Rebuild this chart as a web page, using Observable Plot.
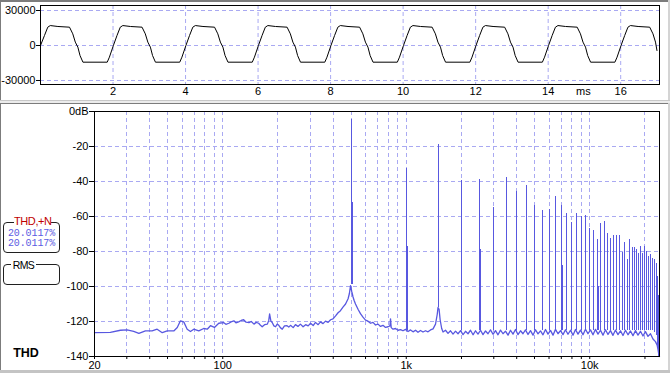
<!DOCTYPE html>
<html><head><meta charset="utf-8">
<script src="https://cdn.jsdelivr.net/npm/d3@7"></script>
<script src="https://cdn.jsdelivr.net/npm/@observablehq/plot@0.6"></script>
<style>
html,body{margin:0;padding:0;background:#fff;}
#root{position:relative;width:670px;height:373px;overflow:hidden;background:#fff;font-family:"Liberation Sans",Arial,sans-serif;}
.abs{position:absolute;}
.box{position:absolute;border:1px solid #202020;border-radius:4px;box-sizing:border-box;}
.lbl{position:absolute;white-space:nowrap;}
</style></head><body>
<div id="root">
  <div class="abs" style="left:0;top:0;width:670px;height:2px;background:#7c7c7c"></div>
  <div class="abs" style="left:0;top:0;width:1px;height:101px;background:#7c7c7c"></div>
  <div class="abs" style="left:668px;top:0;width:2px;height:101px;background:#d4d4d4"></div>
  <div class="abs" style="left:0;top:100px;width:670px;height:1px;background:#c8c8c8"></div>
  <div class="abs" style="left:0;top:101px;width:670px;height:2px;background:#ececec"></div>
  <div class="abs" style="left:0;top:103px;width:670px;height:1px;background:#7c7c7c"></div>
  <div class="abs" style="left:0;top:103px;width:1px;height:270px;background:#7c7c7c"></div>
  <div class="abs" style="left:668px;top:103px;width:2px;height:270px;background:#d4d4d4"></div>
  <div class="abs" style="left:0;top:370px;width:670px;height:3px;background:#c4c4c4"></div>
  <div id="top" class="abs" style="left:0;top:0"></div>
  <div id="bottom" class="abs" style="left:0;top:104px"></div>
  <div class="lbl" id="msLabel" style="left:576px;top:85px;font-size:11px;line-height:12px"></div>
  <div class="box" style="left:3px;top:222px;width:57px;height:31px"></div>
  <div class="lbl" id="thdTitle" style="left:14px;top:215px;width:37px;text-align:center;font-size:11px;line-height:13px;color:#c00000;background:#fff;letter-spacing:-0.4px"></div>
  <div class="lbl" id="thdV1" style="left:3px;top:228.5px;width:57px;text-align:center;font-family:'Liberation Mono',monospace;font-size:10px;line-height:9px;color:#5b5be2;letter-spacing:-0.1px"></div>
  <div class="lbl" id="thdV2" style="left:3px;top:239px;width:57px;text-align:center;font-family:'Liberation Mono',monospace;font-size:10px;line-height:9px;color:#5b5be2;letter-spacing:-0.1px"></div>
  <div class="box" style="left:3px;top:264px;width:57px;height:21px"></div>
  <div class="lbl" id="rmsTitle" style="left:11px;top:259px;width:25px;text-align:center;font-size:10.5px;line-height:13px;background:#fff;letter-spacing:-0.6px"></div>
  <div class="lbl" id="thdBold" style="left:8px;top:346px;width:36px;text-align:center;font-size:12.5px;font-weight:bold;line-height:14px"></div>
</div>
<script>
// ---------- waveform (top panel) ----------
const waveT = [
  0.00,0.11,0.20,0.27,0.48,0.80,0.89,0.96,1.03,1.09,1.17,1.84,1.90,
  2.01,2.11,2.20,2.27,2.48,2.80,2.89,2.96,3.03,3.09,3.17,3.84,3.90,
  4.01,4.11,4.20,4.27,4.48,4.80,4.89,4.96,5.03,5.09,5.17,5.84,5.90,
  6.01,6.11,6.20,6.27,6.48,6.80,6.89,6.96,7.03,7.09,7.17,7.84,7.90,
  8.01,8.11,8.20,8.27,8.48,8.80,8.89,8.96,9.03,9.09,9.17,9.84,9.90,
  10.01,10.11,10.20,10.27,10.48,10.80,10.89,10.96,11.03,11.09,11.17,11.84,11.90,
  12.01,12.11,12.20,12.27,12.48,12.80,12.89,12.96,13.03,13.09,13.17,13.84,13.90,
  14.01,14.11,14.20,14.27,14.48,14.80,14.89,14.96,15.03,15.09,15.17,15.84,15.90,
  16.01,16.11,16.20,16.27,16.48,16.80,16.89,16.96,17.00
];
const waveV = [
  0,8600,15700,17100,16300,15700,10000,2900,-1400,-8600,-14300,-14300,-10000,
  0,8600,15700,17100,16300,15700,10000,2900,-1400,-8600,-14300,-14300,-10000,
  0,8600,15700,17100,16300,15700,10000,2900,-1400,-8600,-14300,-14300,-10000,
  0,8600,15700,17100,16300,15700,10000,2900,-1400,-8600,-14300,-14300,-10000,
  0,8600,15700,17100,16300,15700,10000,2900,-1400,-8600,-14300,-14300,-10000,
  0,8600,15700,17100,16300,15700,10000,2900,-1400,-8600,-14300,-14300,-10000,
  0,8600,15700,17100,16300,15700,10000,2900,-1400,-8600,-14300,-14300,-10000,
  0,8600,15700,17100,16300,15700,10000,2900,-1400,-8600,-14300,-14300,-10000,
  0,8600,15700,17100,16300,15700,10000,2900,-4300
];
const waveXTicks = [2,4,6,8,10,12,14,16];
const waveYTicks = [-30000,0,30000];
const waveUnit = "ms";

// ---------- spectrum (bottom panel) ----------
const noiseF = [20,24.4,27.7,30.1,32.7,34.9,37.9,41.2,43.9,46.8,49.8,54.1,56.5,58.8,61.3,64,66.7,69.5,74,78.8,82.3,85.7,90.1,95.1,
  101,104,108,111,115,118,122,126,130,134,139,143,148,152,157,160,164,169,175,178,180,183,186,190,194,198,202,206,211,217,224,229,234,
  242,249,257,265,274,283,292,301,311,320,331,341,352,363,375,387,399,412,425,438,452,467,482,490,497,505,513,520,529,546,563,581,
  600,619,639,659,680,702,724,747,771,796,815,821,828,847,874,902,931,960,991,1023,1055,1089,1124,1159,1196,1234,1274,1314,1356,1400,
  1444,1475,1490,1510,1530,1560,1587,1637,1689,1743,1799,1856,1915,1976,2039,2104,2171,2240,2312,2385,2461,2540,2620,2704,2790,2879,
  2971,3066,3163,3264,3368,3475,3586,3700,3818,3940,4065,4195,4328,4466,4609,4756,4907,5063,5225,5391,5563,5740,5923,6112,6306,6507,
  6715,6929,7149,7377,7612,7855,8105,8363,8630,8905,9188,9481,9783,10095,10416,10748,11091,11444,11809,12185,12573,12974,13387,13814,
  14254,14708,15177,15660,16159,16674,17205,17753,18319,18903,19505,20127,20768,21430,22112,22817,23300,23544,23800,24000];
const noiseDb = [-126.3,-126.2,-125.0,-124.8,-125.7,-126.8,-125.4,-125.4,-124.4,-126.4,-125.4,-125.4,-123.4,-119.6,-120.2,-124.4,-125.7,-124.4,-125.4,-124.0,-124.4,-122.4,-123.4,-121.0,
  -120.6,-121.6,-121.0,-120.2,-119.6,-120.8,-120.2,-119.4,-119.0,-120.4,-120.6,-120.0,-121.5,-120.5,-121.0,-122.0,-123.0,-121.8,-121.5,-119.5,-115.7,-119.8,-120.6,-122.5,-123.0,-121.5,-122.2,-123.5,-124.4,-122.5,-122.4,-123.2,-122.2,
  -123.5,-121.8,-122.8,-121.5,-123.0,-121.8,-122.5,-121.0,-122.3,-120.5,-121.8,-120.2,-121.2,-119.8,-120.5,-119.0,-118.5,-116.8,-115.0,-113.8,-111.8,-110.0,-107.0,-104.0,-99.5,-103.0,-106.0,-108.0,-110.0,-113.0,-115.5,-117.5,
  -119.2,-119.8,-121.0,-120.5,-122.0,-121.5,-122.8,-122.2,-123.4,-123.0,-122.5,-118.5,-123.5,-124.4,-124.0,-125.0,-124.6,-125.3,-124.5,-125.7,-124.8,-125.9,-125.0,-126.2,-125.1,-126.0,-125.3,-125.9,-124.8,-124.2,
  -121.5,-116.0,-112.0,-113.0,-119.0,-124.0,-126.0,-125.0,-126.8,-125.3,-127.2,-125.5,-127.0,-125.2,-127.5,-125.6,-127.0,-125.0,-127.6,-125.3,-127.2,-125.0,-127.5,-125.4,-127.0,-124.8,
  -127.3,-125.2,-127.6,-124.9,-127.0,-125.5,-127.8,-125.0,-127.2,-124.6,-127.5,-125.3,-127.0,-124.8,-127.4,-125.2,-127.8,-124.7,-127.1,-125.4,-127.6,-124.6,-127.2,-125.1,-127.8,-124.5,
  -127.0,-125.2,-127.5,-124.7,-127.3,-125.0,-127.8,-124.6,-127.2,-124.9,-127.6,-124.4,-127.0,-124.8,-127.6,-124.5,-127.2,-125.0,-127.8,-124.7,-127.4,-125.2,-127.9,-124.9,
  -127.5,-125.3,-128.0,-125.0,-127.6,-125.4,-128.1,-125.2,-127.8,-125.6,-128.3,-125.8,-128.5,-127.0,-130.0,-131.5,-133.5,-136.0,-139.0,-140.0];

const harmF = [500,1000,1500,2000,2500,3000,3500,4000,4500,5000,5500,6000,6500,7000,7500,8000,8500,9000,9500,10000,
  10500,11000,11500,12000,12500,13000,13500,14000,14500,15000,15500,16000,16500,17000,17500,18000,18500,19000,19500,20000,
  20500,21000,21500,22000,22500,23000,23500];
const harmDb = [-4.6,-32.4,-19,-39.5,-39,-55,-37.8,-45.5,-42.4,-53.5,-56.8,-56,-48.8,-53.5,-58,-63.4,-58,-60,-59.5,-67,
  -68,-73,-63.8,-63,-69.6,-72.7,-71,-71,-70.7,-80.8,-74.6,-84.7,-73,-77.7,-77.7,-79,-81,-77,-81,-77.3,
  -80,-82.7,-81.8,-84,-84.7,-86.7,-94.4];
const harmBase = [-99,-125,-112,-125,-125,-125,-125,-125,-125,-125,-125,-125,-125,-125,-125,-125,-125,-125,-125,-125,
  -125,-125,-125,-125,-125,-125,-125,-125,-125,-125,-125,-125,-125,-125,-125,-125,-125,-125,-125,-125,
  -125,-125,-125,-125,-126,-128,-135];
const shoulderF = [500,1000,2500,7000,11000,23500];
const shoulderDb = [-52,-77,-79,-88,-100,-105];
const shoulderBase = [-99,-125,-125,-125,-125,-140];

const freqTicks = [20,30,40,50,60,70,80,90,100,200,300,400,500,600,700,800,900,1000,2000,3000,4000,5000,6000,7000,8000,9000,10000,20000];
const freqGrid = [30,40,50,60,70,80,90,100,200,300,400,500,600,700,800,900,1000,2000,3000,4000,5000,6000,7000,8000,9000,10000,20000];
const freqLabelAt = [20,100,1000,10000];
const freqLabelText = ["20","100","1k","10k"];
const dbTicks = [0,-20,-40,-60,-80,-100,-120,-140];
const dbGrid = [-20,-40,-60,-80,-100,-120];

const thdTitle = "THD,+N";
const thdValues = ["20.0117%","20.0117%"];
const rmsTitle = "RMS";
const modeLabel = "THD";

// ---------- drawing ----------
const gridColor = "#a9a9f2";
const specColor = "#5858e0";
const font = {fontFamily: '"Liberation Sans", Arial, sans-serif', fontSize: "11px", color: "#000", background: "transparent", overflow: "visible"};

const waveData = waveT.map((t, i) => ({t, v: waveV[i]}));
const topPlot = Plot.plot({
  width: 670, height: 100,
  marginLeft: 40, marginRight: 11, marginTop: 5, marginBottom: 16,
  style: font,
  x: {domain: [0, 17.07], ticks: waveXTicks, tickSize: 0, tickPadding: 3, tickFormat: d => String(d), label: null},
  y: {domain: [-33430, 34290], ticks: waveYTicks, tickSize: 4, tickPadding: 1, tickFormat: d => String(d), label: null},
  marks: [
    Plot.ruleX(waveXTicks, {stroke: gridColor, strokeDasharray: "4,3"}),
    Plot.ruleY(waveYTicks, {stroke: gridColor, strokeDasharray: "4,3"}),
    Plot.line(waveData, {x: "t", y: "v", stroke: "#000", strokeWidth: 1}),
    Plot.frame({stroke: "#000"})
  ]
});
document.getElementById("top").appendChild(topPlot);

const noiseData = noiseF.map((f, i) => ({f, db: noiseDb[i]}));
const harmData = harmF.map((f, i) => ({f, db: harmDb[i], base: harmBase[i]}));
const shoulderData = shoulderF.map((f, i) => ({f, db: shoulderDb[i], base: shoulderBase[i]}));
const bottomPlot = Plot.plot({
  width: 670, height: 266,
  marginLeft: 94, marginRight: 11, marginTop: 7, marginBottom: 14,
  style: font,
  x: {type: "log", domain: [20, 24000], ticks: freqTicks, tickSize: 3, tickPadding: 2,
      tickFormat: d => { const k = freqLabelAt.indexOf(d); return k >= 0 ? freqLabelText[k] : ""; }, label: null},
  y: {domain: [-140, 0], ticks: dbTicks, tickSize: 5, tickPadding: 1,
      tickFormat: d => d === 0 ? "0dB" : String(d), label: null},
  marks: [
    Plot.ruleX(freqGrid, {stroke: gridColor, strokeDasharray: "4,3", shapeRendering: "crispEdges"}),
    Plot.ruleY(dbGrid, {stroke: gridColor, strokeDasharray: "4,3", shapeRendering: "crispEdges"}),
    Plot.line(noiseData, {x: "f", y: "db", stroke: specColor, strokeWidth: 1.3}),
    Plot.ruleX(harmData, {x: "f", y1: "base", y2: "db", stroke: specColor, strokeWidth: 1, shapeRendering: "crispEdges"}),
    Plot.ruleX(shoulderData, {x: "f", y1: "base", y2: "db", stroke: specColor, strokeWidth: 1, dx: 1, shapeRendering: "crispEdges"}),
    Plot.frame({stroke: "#000"})
  ]
});
document.getElementById("bottom").appendChild(bottomPlot);

document.getElementById("msLabel").textContent = waveUnit;
document.getElementById("thdTitle").textContent = thdTitle;
document.getElementById("thdV1").textContent = thdValues[0];
document.getElementById("thdV2").textContent = thdValues[1];
document.getElementById("rmsTitle").textContent = rmsTitle;
document.getElementById("thdBold").textContent = modeLabel;
</script>
</body></html>
